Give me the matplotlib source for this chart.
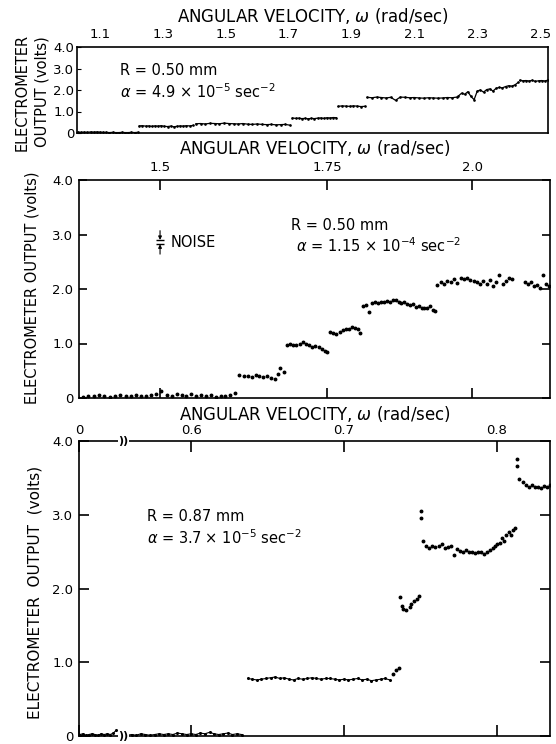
import matplotlib
matplotlib.use("Agg")
import matplotlib.pyplot as plt
from matplotlib.ticker import NullLocator

# ---- panel 1 : R = 0.50 mm, alpha = 4.9e-5 (trace, step segments)
p1_w = [
    [1.030, 1.040, 1.050, 1.060, 1.070, 1.080, 1.090, 1.100, 1.110, 1.120,
     1.130, 1.140, 1.150, 1.160, 1.170, 1.180, 1.190, 1.200, 1.210, 1.220],
    [1.225, 1.235, 1.245, 1.255, 1.265, 1.275, 1.285, 1.295, 1.305, 1.315,
     1.325, 1.335, 1.345, 1.355, 1.365, 1.375, 1.385, 1.395],
    [1.405, 1.420, 1.435, 1.450, 1.465, 1.480, 1.495, 1.510, 1.525, 1.540,
     1.555, 1.570, 1.585, 1.600, 1.615, 1.630, 1.645, 1.660, 1.675, 1.690, 1.705],
    [1.712, 1.722, 1.732, 1.742, 1.752, 1.762, 1.772, 1.782, 1.792, 1.802,
     1.812, 1.822, 1.832, 1.842, 1.852],
    [1.858, 1.870, 1.882, 1.894, 1.906, 1.918, 1.930, 1.942],
    [1.950, 1.965, 1.980, 1.995, 2.010, 2.025, 2.040, 2.055, 2.070, 2.085,
     2.100, 2.115, 2.130, 2.145, 2.160, 2.175, 2.190, 2.205, 2.220, 2.235],
    [2.240, 2.250, 2.260, 2.270, 2.280, 2.290, 2.300, 2.310, 2.320, 2.330,
     2.340, 2.350, 2.360, 2.370, 2.380, 2.390, 2.400, 2.410, 2.420, 2.430],
    [2.435, 2.445, 2.455, 2.465, 2.475, 2.485, 2.495, 2.505, 2.515, 2.525],
]
p1_v = [
    [0.04, 0.03, 0.04, 0.03, 0.05, 0.04, 0.05, 0.04, 0.03, 0.03,
     0.02, 0.03, 0.02, 0.02, 0.03, 0.02, 0.02, 0.03, 0.02, 0.03],
    [0.33, 0.34, 0.32, 0.33, 0.31, 0.33, 0.32, 0.34, 0.31, 0.30,
     0.32, 0.29, 0.31, 0.33, 0.32, 0.34, 0.33, 0.35],
    [0.43, 0.44, 0.42, 0.45, 0.44, 0.43, 0.46, 0.44, 0.43, 0.42,
     0.44, 0.41, 0.40, 0.42, 0.40, 0.39, 0.40, 0.38, 0.39, 0.40, 0.36],
    [0.70, 0.68, 0.69, 0.67, 0.68, 0.66, 0.68, 0.67, 0.69, 0.70,
     0.68, 0.71, 0.70, 0.72, 0.71],
    [1.24, 1.26, 1.25, 1.24, 1.26, 1.25, 1.23, 1.24],
    [1.66, 1.64, 1.67, 1.65, 1.63, 1.66, 1.52, 1.67, 1.66, 1.64,
     1.65, 1.63, 1.62, 1.64, 1.63, 1.62, 1.63, 1.65, 1.64, 1.67],
    [1.72, 1.85, 1.80, 1.92, 1.70, 1.55, 1.95, 2.00, 1.90, 2.02,
     2.05, 1.95, 2.08, 2.12, 2.10, 2.16, 2.20, 2.18, 2.24, 2.35],
    [2.45, 2.43, 2.44, 2.42, 2.45, 2.40, 2.43, 2.44, 2.42, 2.46],
]
p1_ticks = [1.1, 1.3, 1.5, 1.7, 1.9, 2.1, 2.3, 2.5]
p1_lim = (1.027, 2.525)

# ---- panel 2 : R = 0.50 mm, alpha = 1.15e-4 (dots)
p2_w = [1.390, 1.397, 1.404, 1.411, 1.418, 1.425, 1.432, 1.439, 1.446, 1.453,
        1.460, 1.467, 1.474, 1.481, 1.488, 1.495, 1.502, 1.509, 1.516, 1.523,
        1.530, 1.537, 1.544, 1.551, 1.558, 1.565, 1.572, 1.579, 1.586, 1.593,
        1.600, 1.607,
        1.614, 1.620, 1.626, 1.632, 1.638, 1.644, 1.650, 1.656, 1.662, 1.668,
        1.672, 1.676, 1.681,
        1.686, 1.691, 1.696, 1.701, 1.706, 1.711, 1.716, 1.721, 1.726, 1.731,
        1.736, 1.741, 1.746, 1.750,
        1.755, 1.760, 1.765, 1.770, 1.775, 1.780, 1.785, 1.790, 1.795, 1.800,
        1.804,
        1.809, 1.814, 1.819, 1.824, 1.829, 1.834, 1.839, 1.844, 1.849, 1.854,
        1.859, 1.864, 1.869, 1.874, 1.879, 1.884, 1.889, 1.894, 1.899, 1.904,
        1.909, 1.914, 1.919, 1.924, 1.929, 1.933,
        1.937, 1.943, 1.949, 1.955, 1.961, 1.967, 1.973, 1.979, 1.985, 1.991,
        1.997, 2.003, 2.009, 2.015, 2.021, 2.027, 2.033, 2.039, 2.045, 2.051,
        2.057, 2.063, 2.069, 2.075, 2.100, 2.106, 2.112, 2.118, 2.124, 2.130,
        2.136, 2.142, 2.147]
p2_v = [0.03, 0.02, 0.04, 0.03, 0.05, 0.03, 0.02, 0.04, 0.05, 0.03,
        0.04, 0.06, 0.04, 0.03, 0.05, 0.07, 0.12, 0.06, 0.04, 0.08,
        0.05, 0.03, 0.07, 0.04, 0.06, 0.03, 0.05, 0.02, 0.04, 0.03,
        0.06, 0.09,
        0.42, 0.40, 0.41, 0.39, 0.42, 0.41, 0.38, 0.40, 0.37, 0.35,
        0.44, 0.55, 0.48,
        0.98, 0.99, 0.97, 0.98, 1.00, 1.03, 1.00, 0.97, 0.94, 0.96,
        0.93, 0.90, 0.87, 0.84,
        1.22, 1.19, 1.18, 1.21, 1.25, 1.27, 1.26, 1.30, 1.29, 1.27,
        1.20,
        1.68, 1.71, 1.58, 1.74, 1.76, 1.75, 1.77, 1.76, 1.78, 1.77,
        1.79, 1.80, 1.77, 1.74, 1.76, 1.72, 1.70, 1.73, 1.67, 1.68,
        1.66, 1.65, 1.66, 1.68, 1.62, 1.59,
        2.08, 2.12, 2.10, 2.15, 2.13, 2.18, 2.11, 2.20, 2.19, 2.21,
        2.17, 2.15, 2.12, 2.09, 2.14, 2.10, 2.16, 2.05, 2.12, 2.25,
        2.10, 2.15, 2.20, 2.18, 2.13, 2.10, 2.12, 2.05, 2.08, 2.02,
        2.26, 2.10, 2.06]
p2_ticks = [1.5, 1.75, 2.0]
p2_ticklabels = ["1.5", "1.75", "2.0"]
p2_lim = (1.392, 2.149)

# ---- panel 3 : R = 0.87 mm, alpha = 3.7e-5 (broken axis at left)
p3_w_flat = [
    [0.527, 0.529, 0.531, 0.533, 0.535, 0.537, 0.539, 0.541, 0.543, 0.545,
     0.547, 0.549, 0.551],
    [0.558, 0.561, 0.564, 0.567, 0.570, 0.573, 0.576, 0.579, 0.582, 0.585,
     0.588, 0.591, 0.594, 0.597, 0.600, 0.603, 0.606, 0.609, 0.612, 0.615,
     0.618, 0.621, 0.624, 0.627, 0.630, 0.633],
    [0.637, 0.640, 0.643, 0.646, 0.649, 0.652, 0.655, 0.658, 0.661, 0.664,
     0.667, 0.670, 0.673, 0.676, 0.679, 0.682, 0.685, 0.688, 0.691, 0.694,
     0.697, 0.700, 0.703, 0.706, 0.709, 0.712, 0.715, 0.718, 0.721, 0.724,
     0.727, 0.730],
]
p3_v_flat = [
    [0.02, 0.03, 0.01, 0.02, 0.03, 0.02, 0.01, 0.03, 0.02, 0.03,
     0.02, 0.04, 0.08],
    [0.01, 0.02, 0.01, 0.03, 0.02, 0.01, 0.02, 0.03, 0.02, 0.03,
     0.02, 0.04, 0.03, 0.02, 0.03, 0.02, 0.04, 0.03, 0.05, 0.03,
     0.02, 0.03, 0.04, 0.02, 0.03, 0.02],
    [0.78, 0.77, 0.76, 0.77, 0.78, 0.79, 0.80, 0.78, 0.79, 0.77,
     0.76, 0.78, 0.77, 0.78, 0.79, 0.78, 0.77, 0.78, 0.78, 0.77,
     0.76, 0.77, 0.76, 0.77, 0.78, 0.76, 0.77, 0.75, 0.76, 0.77,
     0.78, 0.76],
]
p3_w_dots = [0.732, 0.734, 0.736,
             0.737, 0.738, 0.739, 0.741, 0.743, 0.744, 0.746, 0.748, 0.749,
             0.7505, 0.7505,
             0.752, 0.754, 0.756, 0.758, 0.760, 0.762, 0.764, 0.766, 0.768,
             0.770, 0.772, 0.774, 0.776, 0.778, 0.780, 0.782, 0.784, 0.786,
             0.788, 0.790, 0.792, 0.794,
             0.796, 0.7975, 0.799, 0.8005, 0.802, 0.8035, 0.805, 0.8065,
             0.808, 0.8095, 0.811, 0.812,
             0.8135, 0.8135,
             0.815, 0.817, 0.819, 0.821, 0.823, 0.825, 0.827, 0.829, 0.831,
             0.833, 0.835]
p3_v_dots = [0.84, 0.90, 0.92,
             1.89, 1.76, 1.72, 1.71, 1.75, 1.79, 1.83, 1.86, 1.90,
             3.05, 2.95,
             2.64, 2.57, 2.55, 2.58, 2.56, 2.57, 2.60, 2.55, 2.56,
             2.58, 2.45, 2.53, 2.51, 2.50, 2.52, 2.49, 2.50, 2.48,
             2.50, 2.49, 2.47, 2.50,
             2.52, 2.55, 2.57, 2.60, 2.62, 2.68, 2.65, 2.72,
             2.76, 2.73, 2.80, 2.82,
             3.75, 3.66,
             3.48, 3.44, 3.40, 3.37, 3.41, 3.37, 3.38, 3.36, 3.39,
             3.37, 3.40]
p3_ticks = [0.6, 0.7, 0.8]
p3_lim = (0.5265, 0.835)
p3_break = 0.5555

yticks = [0, 1, 2, 3, 4]
yticklabels = ["0", "1.0", "2.0", "3.0", "4.0"]
title = r"ANGULAR VELOCITY, $\omega$ (rad/sec)"

W, H = 556, 744
fig = plt.figure(figsize=(W / 100, H / 100), dpi=100)

def rect(l, t, r, b):
    return [l / W, 1 - b / H, (r - l) / W, (b - t) / H]

ax1 = fig.add_axes(rect(77, 47, 548, 133))
ax2 = fig.add_axes(rect(79, 180, 550, 398))
ax3 = fig.add_axes(rect(79, 441, 550, 736))

for ax in (ax1, ax2, ax3):
    ax.set_ylim(0, 4.0)
    ax.set_yticks(yticks)
    ax.set_yticklabels(yticklabels)
    for s in ax.spines.values():
        s.set_linewidth(1.2)
    ax.xaxis.set_label_position("top")
ax1.set_xlabel(title, fontsize=12, labelpad=5)
ax2.set_xlabel(title, fontsize=12, labelpad=5)
ax3.set_xlabel(title, fontsize=12, labelpad=3)

# panel 1
for w, v in zip(p1_w, p1_v):
    ax1.plot(w, v, color="k", lw=0.9, marker="o", ms=0.9)
ax1.set_xlim(*p1_lim)
ax1.set_xticks(p1_ticks)
ax1.set_xticklabels([f"{t:.1f}" for t in p1_ticks])
ax1.tick_params(axis="x", top=True, bottom=False, labeltop=True,
                labelbottom=False, length=0, pad=4, labelsize=9.5)
ax1.tick_params(axis="y", direction="in", length=3, pad=2, labelsize=9.5)
ax1.text(0.091, 0.73, "R = 0.50 mm", transform=ax1.transAxes,
         fontsize=10.5, va="center")
ax1.text(0.091, 0.48, r"$\alpha$ = 4.9 $\times$ 10$^{-5}$ sec$^{-2}$",
         transform=ax1.transAxes, fontsize=10.5, va="center")

# panel 2
ax2.set_xscale("log")
ax2.plot(p2_w, p2_v, "o", color="k", ms=1.8)
ax2.set_xlim(*p2_lim)
ax2.set_xticks(p2_ticks)
ax2.set_xticklabels(p2_ticklabels)
ax2.xaxis.set_minor_locator(NullLocator())
ax2.tick_params(axis="x", top=True, bottom=True, labeltop=True,
                labelbottom=False, direction="in", length=7, width=1.2,
                pad=4, labelsize=9.5)
ax2.tick_params(axis="y", left=True, right=True, direction="in", length=6,
                width=1.2, pad=4, labelsize=9.5)
ax2.text(0.45, 0.79, "R = 0.50 mm", transform=ax2.transAxes,
         fontsize=10.5, va="center")
ax2.text(0.46, 0.70, r"$\alpha$ = 1.15 $\times$ 10$^{-4}$ sec$^{-2}$",
         transform=ax2.transAxes, fontsize=10.5, va="center")
# noise marker
ax2.annotate("", xy=(1.5, 2.90), xytext=(1.5, 3.07),
             arrowprops=dict(arrowstyle="-|>", lw=0.8, color="k",
                             mutation_scale=5, shrinkA=0, shrinkB=0))
ax2.annotate("", xy=(1.5, 2.82), xytext=(1.5, 2.64),
             arrowprops=dict(arrowstyle="-|>", lw=0.8, color="k",
                             mutation_scale=5, shrinkA=0, shrinkB=0))
ax2.plot([1.5, 1.5], [2.90, 2.82], "_", color="k", ms=6, mew=1)
ax2.text(1.515, 2.86, "NOISE", fontsize=10.5, va="center")

# panel 3
for w, v in zip(p3_w_flat, p3_v_flat):
    ax3.plot(w, v, color="k", lw=0.8, marker="o", ms=1.2)
ax3.plot(p3_w_dots, p3_v_dots, "o", color="k", ms=1.8)
ax3.set_xlim(*p3_lim)
ax3.set_xticks([p3_lim[0]] + p3_ticks)
ax3.set_xticklabels(["0", "0.6", "0.7", "0.8"])
ax3.tick_params(axis="x", top=True, bottom=True, labeltop=True,
                labelbottom=False, direction="in", length=8, width=1.2,
                pad=3, labelsize=9.5)
ax3.tick_params(axis="y", left=True, right=True, direction="in", length=7,
                width=1.2, pad=4, labelsize=9.5)
ax3.text(0.144, 0.745, "R = 0.87 mm", transform=ax3.transAxes,
         fontsize=10.5, va="center")
ax3.text(0.144, 0.672, r"$\alpha$ = 3.7 $\times$ 10$^{-5}$ sec$^{-2}$",
         transform=ax3.transAxes, fontsize=10.5, va="center")
for yb in (4.0, 0.0):
    ax3.text(p3_break, yb, "))", fontsize=8, ha="center", va="center",
             fontweight="bold",
             bbox=dict(facecolor="white", edgecolor="none", pad=0.3),
             clip_on=False, zorder=5)

# y labels
fig.text(22 / W, 1 - 92 / H, "ELECTROMETER", rotation=90, fontsize=10.5,
         ha="center", va="center")
fig.text(42 / W, 1 - 92 / H, "OUTPUT (volts)", rotation=90, fontsize=10.5,
         ha="center", va="center")
fig.text(32 / W, 1 - 288 / H, "ELECTROMETER OUTPUT (volts)", rotation=90,
         fontsize=10.5, ha="center", va="center")
fig.text(35 / W, 1 - 592 / H, "ELECTROMETER  OUTPUT  (volts)", rotation=90,
         fontsize=11, ha="center", va="center")

fig.savefig("out.png", dpi=100)
